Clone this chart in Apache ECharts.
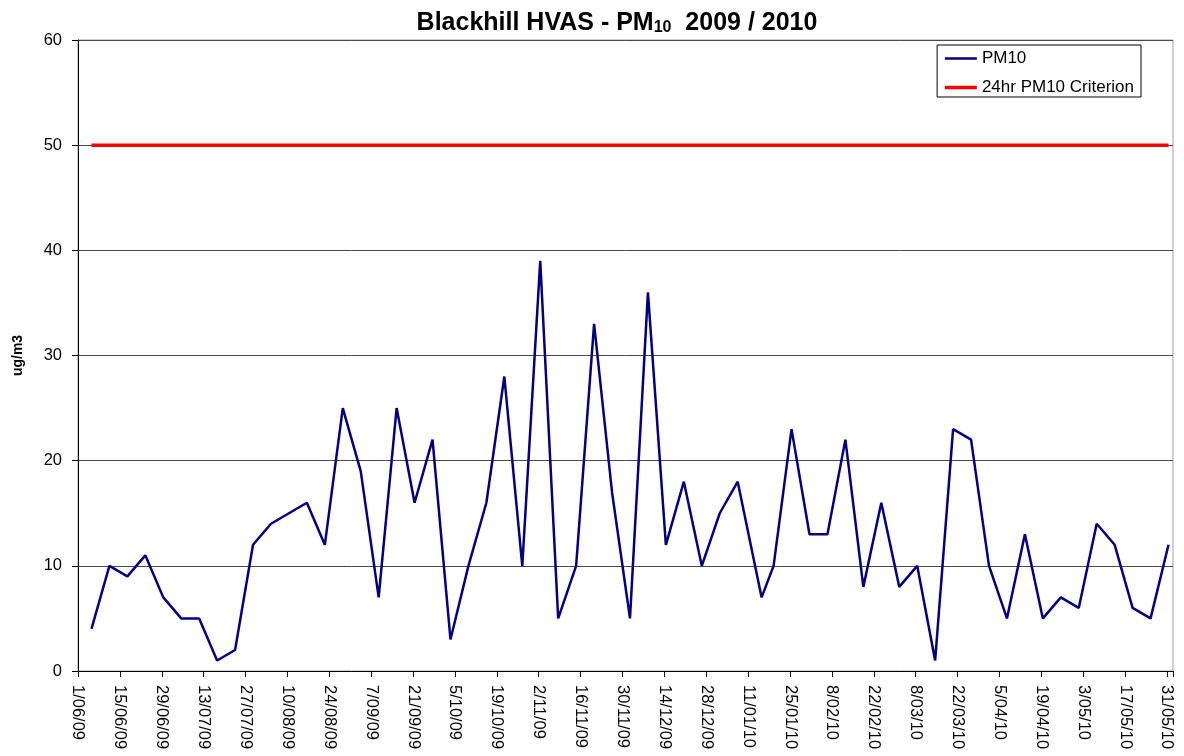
<!DOCTYPE html>
<html>
<head>
<meta charset="utf-8">
<script src="https://cdn.jsdelivr.net/npm/echarts@6/dist/echarts.min.js"></script>
<style>
  html, body { margin: 0; padding: 0; background: #fff; }
  #chart { width: 1184px; height: 756px; }
</style>
</head>
<body>
<div id="chart"></div>
<script>
// HVAS sample dates (d/mm/yy) and PM10 readings
var sampleDates = [
  '5/06/09', '11/06/09', '17/06/09', '23/06/09', '29/06/09',
  '5/07/09', '11/07/09', '17/07/09', '23/07/09', '29/07/09',
  '4/08/09', '10/08/09', '16/08/09', '22/08/09', '28/08/09',
  '3/09/09', '9/09/09', '15/09/09', '21/09/09', '27/09/09',
  '3/10/09', '9/10/09', '15/10/09', '21/10/09', '27/10/09',
  '2/11/09', '8/11/09', '14/11/09', '20/11/09', '26/11/09',
  '2/12/09', '8/12/09', '14/12/09', '20/12/09', '26/12/09',
  '1/01/10', '7/01/10', '15/01/10', '19/01/10', '25/01/10', '31/01/10',
  '6/02/10', '12/02/10', '18/02/10', '24/02/10',
  '2/03/10', '8/03/10', '14/03/10', '20/03/10', '26/03/10',
  '1/04/10', '7/04/10', '13/04/10', '19/04/10', '25/04/10',
  '1/05/10', '7/05/10', '13/05/10', '19/05/10', '25/05/10', '31/05/10'
];
var pm10Values = [
  4, 10, 9, 11, 7,
  5, 5, 1, 2, 12,
  14, 15, 16, 12, 25,
  19, 7, 25, 16, 22,
  3, 10, 16, 28, 10,
  39, 5, 10, 33, 17,
  5, 36, 12, 18, 10,
  15, 18, 7, 10, 23, 13,
  13, 22, 8, 16,
  8, 10, 1, 23, 22,
  10, 5, 13, 5, 7,
  6, 14, 12, 6, 5, 12
];
var criterionValue = 50;
var axisStartDate = '1/06/09';   // first tick label
var axisEndDate = '31/05/10';    // last tick label
var tickStepDays = 14;

var FONT = '"Liberation Sans", Arial, sans-serif';
var DAY = 86400000;

function parseDate(s) {
  var p = s.split('/');
  return Date.UTC(2000 + Number(p[2]), Number(p[1]) - 1, Number(p[0]));
}
var t0 = parseDate(axisStartDate);
var spanDays = (parseDate(axisEndDate) - t0) / DAY;
function dayOf(s) { return (parseDate(s) - t0) / DAY; }
function fmtDay(v) {
  var d = new Date(t0 + v * DAY);
  var mm = ('0' + (d.getUTCMonth() + 1)).slice(-2);
  var yy = ('0' + (d.getUTCFullYear() % 100)).slice(-2);
  return d.getUTCDate() + '/' + mm + '/' + yy;
}

// Excel puts each date in the middle of its day slot
var pm10Data = sampleDates.map(function (s, i) { return [dayOf(s) + 0.5, pm10Values[i]]; });
var critData = [
  [dayOf(sampleDates[0]) + 0.5, criterionValue],
  [dayOf(sampleDates[sampleDates.length - 1]) + 0.5, criterionValue]
];

var chart = echarts.init(document.getElementById('chart'));
var option = {
  animation: false,
  backgroundColor: '#fff',
  textStyle: { fontFamily: FONT },
  title: {
    text: 'Blackhill HVAS - PM{sub|10}  2009 / 2010',
    left: 612,
    textAlign: 'center',
    top: 5,
    textStyle: {
      fontFamily: FONT,
      fontSize: 25,
      fontWeight: 'bold',
      color: '#000',
      rich: {
        sub: { fontFamily: FONT, fontSize: 16, fontWeight: 'bold', color: '#000', padding: [10, 0, 0, 0] }
      }
    }
  },
  legend: {
    orient: 'vertical',
    right: 43,
    top: 45,
    borderColor: '#000',
    borderWidth: 1,
    padding: [5, 7, 1, 6],
    itemWidth: 32,
    itemHeight: 12,
    itemGap: 12,
    itemStyle: { opacity: 0 },
    textStyle: { fontFamily: FONT, fontSize: 17, color: '#000' },
    data: [
      { name: 'PM10', lineStyle: { color: '#000080', width: 2.5 } },
      { name: '24hr PM10 Criterion', lineStyle: { color: '#ff0000', width: 3.5 } }
    ]
  },
  grid: {
    left: 78,
    right: 11,
    top: 40,
    bottom: 85,
    show: true,
    borderColor: '#a0a0a0',
    borderWidth: 1
  },
  xAxis: {
    type: 'value',
    min: 0,
    max: spanDays + 2,
    interval: tickStepDays,
    axisLine: { lineStyle: { color: '#000', width: 1 } },
    axisTick: { show: true, length: 6, lineStyle: { color: '#000' } },
    splitLine: { show: false },
    axisLabel: {
      rotate: -90,
      margin: 14,
      fontFamily: FONT,
      fontSize: 16.5,
      color: '#000',
      formatter: function (v) { return v % tickStepDays === 0 ? fmtDay(v) : ''; }
    }
  },
  yAxis: {
    type: 'value',
    min: 0,
    max: 60,
    interval: 10,
    name: 'ug/m3',
    nameLocation: 'middle',
    nameGap: 53,
    nameTextStyle: { fontFamily: FONT, fontSize: 14, fontWeight: 'bold', color: '#000' },
    axisLine: { show: true, lineStyle: { color: '#000', width: 1 } },
    axisTick: { show: true, length: 6, lineStyle: { color: '#000' } },
    splitLine: { show: true, lineStyle: { color: '#4a4a4a', width: 1 } },
    axisLabel: { margin: 16, fontFamily: FONT, fontSize: 16.5, color: '#000' }
  },
  series: [
    {
      name: 'PM10',
      type: 'line',
      symbol: 'none',
      data: pm10Data,
      lineStyle: { color: '#000080', width: 2.5 },
      itemStyle: { color: '#000080' },
      z: 3
    },
    {
      name: '24hr PM10 Criterion',
      type: 'line',
      symbol: 'none',
      data: critData,
      lineStyle: { color: '#ff0000', width: 3.5 },
      itemStyle: { color: '#ff0000' },
      z: 2
    }
  ]
};
chart.setOption(option);
</script>
</body>
</html>
